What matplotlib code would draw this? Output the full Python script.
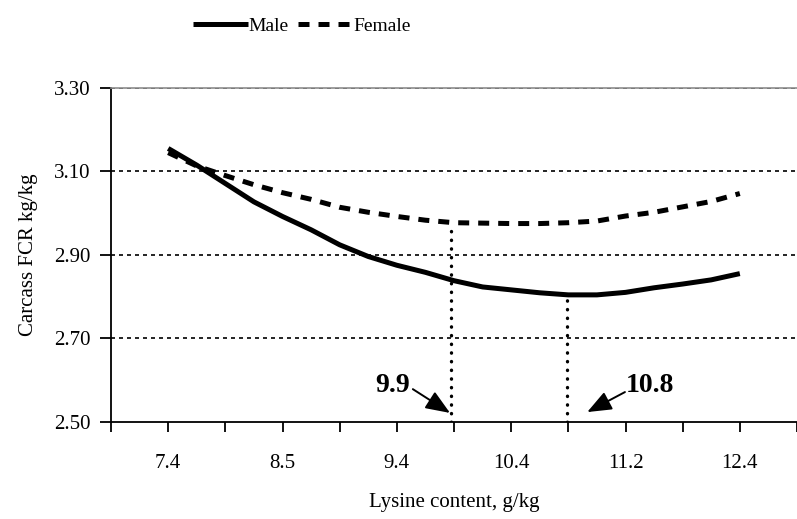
import numpy as np
import matplotlib.pyplot as plt

plt.rcParams['font.family'] = ['Liberation Serif', 'DejaVu Serif']

# === Data ===
# x is the position along the category axis (tick units)
pos = [1.0, 1.5, 2.0, 2.5, 3.0, 3.5, 4.0, 4.5, 5.0, 5.5, 6.0,
       6.5, 7.0, 7.5, 8.0, 8.5, 9.0, 9.5, 10.0, 10.5, 11.0]
male = [3.155, 3.115, 3.071, 3.027, 2.992, 2.960, 2.924, 2.896, 2.875, 2.858, 2.838,
        2.823, 2.816, 2.809, 2.804, 2.804, 2.810, 2.821, 2.830, 2.840, 2.855]
female = [3.145, 3.113, 3.090, 3.068, 3.049, 3.033, 3.014, 3.002, 2.992, 2.983, 2.977,
          2.976, 2.975, 2.975, 2.977, 2.981, 2.993, 3.002, 3.015, 3.028, 3.047]

cat_labels = ['7.4', '8.5', '9.4', '10.4', '11.2', '12.4']
cat_pos = [1, 3, 5, 7, 9, 11]

opt_labels = ['9.9', '10.8']
opt_pos = [5.95, 7.97]
opt_top = [2.977, 2.804]

fig = plt.figure(figsize=(7.97, 5.19), dpi=100)
ax = fig.add_axes([0.1393, 0.1875, 0.8607, 0.643])

# gridlines
for g in [2.70, 2.90, 3.10, 3.30]:
    ax.axhline(g, color='black', lw=1.2, ls=(0, (2.4, 2.4)), zorder=1)

ln_m, = ax.plot(pos, male, color='black', lw=3.6, solid_capstyle='butt', zorder=3, label='Male')
ln_f, = ax.plot(pos, female, color='black', lw=3.6, dashes=(2.2, 1.8), zorder=3, label='Female')

# optimum markers
for x0, top in zip(opt_pos, opt_top):
    ax.plot([x0, x0], [2.50, top], color='black', lw=2.4, ls=(0, (0.1, 2.5)),
            dash_capstyle='round', zorder=2)

arrow = dict(arrowstyle='-|>,head_length=0.55,head_width=0.22', mutation_scale=27,
             lw=1.4, color='black', shrinkA=0, shrinkB=0)
ax.text(4.93, 2.571, opt_labels[0], fontsize=20, fontweight='bold', ha='center', va='baseline')
ax.annotate('', xy=(5.93, 2.521), xytext=(5.28, 2.578), arrowprops=arrow)
ax.text(9.43, 2.571, opt_labels[1], fontsize=20, fontweight='bold', ha='center', va='baseline')
ax.annotate('', xy=(8.33, 2.523), xytext=(8.99, 2.571), arrowprops=arrow)

ax.set_xlim(0, 12)
ax.set_ylim(2.50, 3.30)
ax.set_yticks([2.50, 2.70, 2.90, 3.10, 3.30])
ax.set_yticklabels(['2.50', '2.70', '2.90', '3.10', '3.30'])
xt = list(range(13))
xl = [''] * 13
for p, lab in zip(cat_pos, cat_labels):
    xl[p] = lab
ax.set_xticks(xt)
ax.set_xticklabels(xl)

ax.tick_params(axis='x', direction='out', length=7, width=1.3, pad=16, labelsize=15)
ax.tick_params(axis='y', direction='out', length=8, width=1.3, pad=7, labelsize=15)

ax.spines['right'].set_visible(False)
ax.spines['top'].set_color('#8c8c8c')
ax.spines['top'].set_linewidth(1.2)
ax.spines['left'].set_linewidth(1.3)
ax.spines['bottom'].set_linewidth(1.3)

ax.set_xlabel('Lysine content, g/kg', fontsize=15, labelpad=15)
ax.set_ylabel('Carcass FCR kg/kg', fontsize=15, labelpad=11)

fig.legend(handles=[ln_m, ln_f], loc='center', bbox_to_anchor=(302 / 797, 1 - 26 / 519),
           ncol=2, frameon=False, fontsize=14, handlelength=2.8, handletextpad=0.05,
           columnspacing=0.45, borderaxespad=0)

fig.savefig('out.png', dpi=100)
